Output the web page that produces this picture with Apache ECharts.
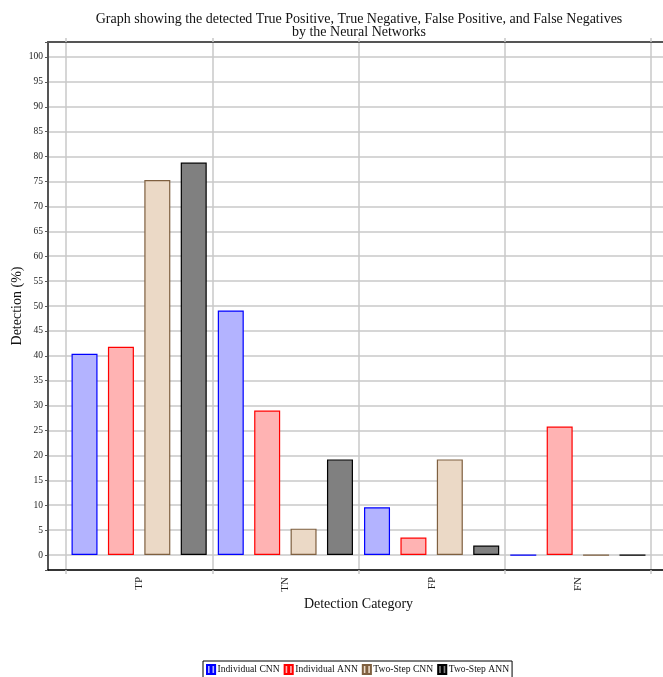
<!DOCTYPE html>
<html>
<head>
<meta charset="utf-8">
<script src="https://cdn.jsdelivr.net/npm/echarts@6/dist/echarts.min.js"></script>
<style>
html,body{margin:0;padding:0;background:#fff;}
#chart{width:663px;height:677px;}
</style>
</head>
<body>
<div id="chart"></div>
<script>
var categories = ['TP', 'TN', 'FP', 'FN'];
var individualCNN = [40.4, 49.1, 9.6, 0];
var individualANN = [41.8, 29.0, 3.5, 25.8];
var twoStepCNN = [75.3, 5.3, 19.2, 0];
var twoStepANN = [78.8, 19.2, 1.9, 0];
var seriesNames = ['Individual CNN', 'Individual ANN', 'Two-Step CNN', 'Two-Step ANN'];
var yMin = -3, yMax = 103;

var FONT = '"Liberation Serif", "DejaVu Serif", serif';
var styles = [
  {color: '#b3b3ff', borderColor: '#0000ff'},
  {color: '#ffb3b3', borderColor: '#ff0000'},
  {color: '#ebd9c6', borderColor: '#7f6040'},
  {color: '#808080', borderColor: '#000000'}
];
var dataSets = [individualCNN, individualANN, twoStepCNN, twoStepANN];
var GRIDC = '#c8c8c8';

var chart = echarts.init(document.getElementById('chart'), null, {renderer: 'canvas'});
var option = {
  backgroundColor: '#ffffff',
  animation: false,
  title: {
    text: 'Graph showing the detected True Positive, True Negative, False Positive, and False Negatives\nby the Neural Networks',
    left: 354, top: 8, textAlign: 'center',
    textStyle: {fontFamily: FONT, fontSize: 14, fontWeight: 'normal', color: '#111', lineHeight: 13}
  },
  legend: {
    data: seriesNames,
    left: 203, top: 661,
    padding: [3, 3],
    itemGap: 4,
    itemWidth: 9, itemHeight: 9,
    icon: 'path://M0,0H4V10H0Z M5,0H9V10H5Z',
    borderColor: '#000', borderWidth: 1,
    textStyle: {fontFamily: FONT, fontSize: 9.6, color: '#111', padding: [0, 0, 0, -3]}
  },
  grid: [
    {left: 66, right: 12, top: 42, bottom: 107},
    {left: 48, right: -4, top: 42, bottom: 107}
  ],
  xAxis: [
    {
      type: 'category', data: categories, gridIndex: 0, position: 'bottom',
      boundaryGap: true,
      axisLine: {show: false, onZero: false},
      axisTick: {show: true, length: 4, inside: false, lineStyle: {color: GRIDC, width: 1.5}},
      axisLabel: {rotate: 90, fontFamily: FONT, fontSize: 11, color: '#222', margin: 7},
      splitLine: {show: true, lineStyle: {color: GRIDC, width: 1.5}},
      name: 'Detection Category', nameLocation: 'middle', nameGap: 27, nameMoveOverlap: false,
      nameTextStyle: {fontFamily: FONT, fontSize: 14, color: '#111'}
    },
    {
      type: 'category', data: categories, gridIndex: 0, position: 'top',
      boundaryGap: true,
      axisLine: {show: false, onZero: false},
      axisTick: {show: true, length: 4, inside: false, lineStyle: {color: GRIDC, width: 1.5}},
      axisLabel: {show: false},
      splitLine: {show: false}
    },
    {
      type: 'value', gridIndex: 1, position: 'bottom', min: 0, max: 1,
      axisLine: {show: true, onZero: false, lineStyle: {color: '#000', width: 1.5}},
      axisTick: {show: false}, axisLabel: {show: false}, splitLine: {show: false}
    },
    {
      type: 'value', gridIndex: 1, position: 'top', min: 0, max: 1,
      axisLine: {show: true, onZero: false, lineStyle: {color: '#555', width: 2}},
      axisTick: {show: false}, axisLabel: {show: false}, splitLine: {show: false}
    }
  ],
  yAxis: [
    {
      type: 'value', gridIndex: 0, min: yMin, max: yMax, show: false
    },
    {
      type: 'value', gridIndex: 1, min: yMin, max: yMax, position: 'left',
      splitNumber: 21, minInterval: 5, maxInterval: 5,
      axisLine: {show: true, onZero: false, lineStyle: {color: '#555', width: 2}},
      axisTick: {show: true, length: 3, inside: false, lineStyle: {color: '#555', width: 1}},
      axisLabel: {
        fontFamily: FONT, fontSize: 9.5, color: '#222', margin: 5,
        formatter: function (v) { return (Math.abs(v % 5) < 1e-9) ? String(v) : ''; }
      },
      splitLine: {show: true, lineStyle: {color: GRIDC, width: 1.5}},
      name: 'Detection (%)', nameLocation: 'middle', nameGap: 24, nameRotate: 90, nameMoveOverlap: false,
      nameTextStyle: {fontFamily: FONT, fontSize: 14, color: '#111'}
    }
  ],
  series: seriesNames.map(function (name, i) {
    return {
      name: name, type: 'bar', xAxisIndex: 0, yAxisIndex: 0,
      data: dataSets[i],
      barWidth: 26, barGap: '40%',
      itemStyle: {color: styles[i].color, borderColor: styles[i].borderColor, borderWidth: 1.2},
      emphasis: {disabled: true}
    };
  })
};
chart.setOption(option);
</script>
</body>
</html>
